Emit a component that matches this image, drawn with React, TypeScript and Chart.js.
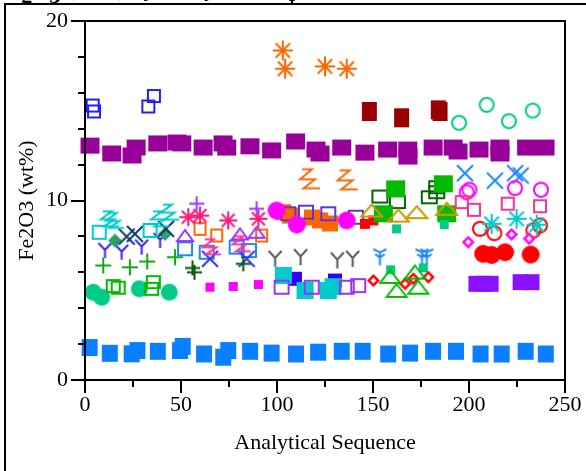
import React, { useEffect, useRef, useState } from "react";
import { Chart, registerables } from "chart.js";

Chart.register(...registerables);

const FONT = "'Liberation Serif', 'Times New Roman', serif";
const X_TITLE = "Analytical Sequence";
const Y_TITLE = "Fe2O3 (wt%)";
const X_MIN = 0, X_MAX = 250, X_STEP = 50, X_MINOR_STEP = 25;
const Y_MIN = 0, Y_MAX = 20, Y_STEP = 10, Y_MINOR_STEP = 2;

// ---- data (x = analytical sequence, y = Fe2O3 wt%) ----
const blueFillX = [2.4, 12.9, 24.3, 27.3, 37.9, 49.5, 50.9, 62.0, 72.0, 74.6, 86.0, 97.2, 109.9, 121.4, 133.7, 144.6, 157.9, 169.3, 181.3, 193.2, 206.0, 217.0, 229.5, 240.0];
const blueFillY = [1.81, 1.49, 1.46, 1.64, 1.6, 1.64, 1.87, 1.45, 1.27, 1.64, 1.6, 1.5, 1.45, 1.55, 1.6, 1.6, 1.45, 1.5, 1.6, 1.6, 1.45, 1.45, 1.6, 1.45];
const purpleFillX = [2.6, 13.9, 24.5, 26.6, 37.9, 47.9, 50.4, 61.5, 71.9, 73.8, 85.9, 97.2, 109.7, 120.3, 122.4, 133.7, 145.8, 157.6, 168.1, 168.2, 181.3, 191.7, 194.3, 205.2, 216.1, 216.1, 230.0, 239.6];
const purpleFillY = [13.06, 12.62, 12.51, 12.95, 13.18, 13.23, 13.18, 12.95, 13.18, 12.95, 13.02, 12.79, 13.29, 12.84, 12.62, 12.95, 12.67, 12.84, 12.84, 12.45, 12.95, 12.95, 12.73, 12.84, 12.95, 12.62, 12.95, 12.95];
const blueOpenX = [4.0, 4.7, 33.0, 35.9];
const blueOpenY = [15.29, 14.96, 15.24, 15.82];
const orangeStarX = [103.0, 104.2, 125.0, 136.3];
const orangeStarY = [18.36, 17.34, 17.47, 17.34];
const darkRedX = [148.1, 164.9, 184.0, 184.9];
const darkRedY = [14.96, 14.61, 15.05, 14.96];
const mintOpenCircX = [194.8, 209.2, 220.8, 233.2];
const mintOpenCircY = [14.33, 15.33, 14.42, 15.01];
const orangeZX = [117.2, 136.8];
const orangeZY = [11.21, 11.15];
const cyanZX = [13.0, 15.6, 39.1, 44.3];
const cyanZY = [8.98, 8.89, 8.98, 9.35];
const cyanOpenX = [7.4, 33.9];
const cyanOpenY = [8.23, 8.33];
const tealDiaX = [15.6, 41.7];
const tealDiaY = [7.77, 8.14];
const navyXX = [21.7, 26.0, 42.2];
const navyXY = [7.99, 8.14, 8.42];
const violetYX = [10.4, 19.1, 29.5, 39.1];
const violetYY = [7.21, 7.12, 7.4, 7.77];
const greenPlusX = [9.5, 23.4, 32.4, 46.9];
const greenPlusY = [6.38, 6.28, 6.6, 6.84];
const mintCircX = [4.3, 8.7, 28.3, 43.9];
const mintCircY = [4.89, 4.61, 5.08, 4.89];
const greenOpenSqX = [14.7, 17.3, 34.7, 35.6];
const greenOpenSqY = [5.23, 5.14, 5.08, 5.45];
const magentaSmallX = [65.1, 77.2, 90.3];
const magentaSmallY = [5.17, 5.21, 5.32];
const pinkStarX = [53.8, 59.9, 74.6, 90.3];
const pinkStarY = [9.07, 9.16, 8.89, 8.98];
const purplePlusX = [58.2, 89.4];
const purplePlusY = [9.82, 9.54];
const orangeOpenX = [59.9, 68.6, 92.0];
const orangeOpenY = [8.42, 8.05, 8.05];
const purpleTriX = [52.1, 80.7, 89.4];
const purpleTriY = [8.05, 8.14, 8.23];
const azureOpenX = [52.1, 63.4, 79.0, 85.4];
const azureOpenY = [7.31, 7.12, 7.4, 7.21];
const blueCrossX = [65.1, 84.2];
const blueCrossY = [6.75, 6.75];
const pinkZX = [66.1, 81.6];
const pinkZY = [7.42, 7.59];
const darkGreenPlusX = [56.0, 57.0, 82.4];
const darkGreenPlusY = [6.24, 6.0, 6.47];
const magentaCircX = [99.8, 110.3, 136.3];
const magentaCircY = [9.44, 8.66, 8.89];
const orangeFillX = [103.3, 106.8, 118.2, 122.4, 127.6];
const orangeFillY = [9.35, 9.16, 9.05, 8.89, 8.72];
const indigoOpenX = [105.9, 115.1, 126.7, 141.1];
const indigoOpenY = [9.26, 9.35, 9.26, 9.07];
const redSmallX = [145.8, 150.2];
const redSmallY = [8.7, 8.89];
const goldTriX = [149.3, 163.2, 172.8, 188.4];
const goldTriY = [9.44, 9.16, 9.35, 9.54];
const darkGreenOpenX = [153.6, 162.7, 179.3, 183.2, 183.2];
const darkGreenOpenY = [10.22, 9.91, 10.18, 10.46, 10.74];
const greenFillX = [161.8, 155.4, 186.6, 188.4];
const greenFillY = [10.65, 9.26, 10.93, 9.26];
const mintSmallX = [162.3, 187.1, 159.2, 176.2];
const mintSmallY = [8.42, 8.66, 6.14, 6.25];
const greyYX = [99.0, 112.3, 131.4, 139.4];
const greyYY = [6.75, 6.84, 6.66, 6.75];
const azureYX = [153.6, 175.5, 178.0];
const azureYY = [6.84, 6.84, 6.84];
const cyanFillX = [103.3, 114.6, 126.7, 129.2];
const cyanFillY = [5.82, 4.99, 4.99, 5.2];
const royalFillX = [109.4, 130.2];
const royalFillY = [5.64, 5.54];
const purpleOpenX = [102.4, 118.1, 136.3, 142.3];
const purpleOpenY = [5.17, 5.17, 5.17, 5.26];
const redDiaX = [150.2, 166.7, 171.0, 178.8];
const redDiaY = [5.54, 5.36, 5.64, 5.73];
const greenTriX = [158.9, 162.3, 171.9, 173.6];
const greenTriY = [5.77, 4.99, 6.01, 5.17];
const azureXX = [197.9, 213.5, 224.0, 226.9];
const azureXY = [11.52, 11.11, 11.52, 11.39];
const magentaOpenCircX = [198.8, 200.2, 224.0, 237.5];
const magentaOpenCircY = [10.46, 10.6, 10.69, 10.6];
const pinkOpenX = [196.2, 202.6, 220.2, 237.0];
const pinkOpenY = [9.91, 9.48, 9.82, 9.68];
const redOpenCircX = [205.7, 213.2, 233.5, 237.0];
const redOpenCircY = [8.42, 8.18, 8.33, 8.61];
const cyanStarX = [211.8, 224.8, 235.3];
const cyanStarY = [8.7, 8.98, 8.65];
const magentaDiaX = [199.6, 222.2, 231.3];
const magentaDiaY = [7.68, 8.11, 7.87];
const redCircX = [207.4, 211.8, 218.8, 232.1];
const redCircY = [7.03, 6.97, 7.12, 6.99];
const violetFillX = [203.6, 207.3, 211.5, 226.6, 232.8];
const violetFillY = [5.36, 5.36, 5.36, 5.45, 5.45];

type Kind = "fsq" | "osq" | "fcirc" | "ocirc" | "star" | "x" | "plus" | "otri" | "Y" | "Y2" | "Z" | "fdia" | "sdia";

interface Series { x: number[]; y: number[]; kind: Kind; color: string; w: number; h: number; lw?: number }

const SERIES: Series[] = [
  { x: blueFillX, y: blueFillY, kind: "fsq", color: "#0a7fff", w: 16, h: 17 },
  { x: purpleFillX, y: purpleFillY, kind: "fsq", color: "#990099", w: 19, h: 16 },
  { x: blueOpenX, y: blueOpenY, kind: "osq", color: "#1e1eff", w: 14, h: 14 },
  { x: orangeStarX, y: orangeStarY, kind: "star", color: "#ff6600", w: 20, h: 20 },
  { x: darkRedX, y: darkRedY, kind: "fsq", color: "#990000", w: 15, h: 19 },
  { x: mintOpenCircX, y: mintOpenCircY, kind: "ocirc", color: "#00cc88", w: 16, h: 16 },
  { x: orangeZX, y: orangeZY, kind: "Z", color: "#ff6600", w: 20, h: 20 },
  { x: mintCircX, y: mintCircY, kind: "fcirc", color: "#00cc88", w: 17, h: 17 },
  { x: greenOpenSqX, y: greenOpenSqY, kind: "osq", color: "#00bb00", w: 15, h: 14 },
  { x: greenPlusX, y: greenPlusY, kind: "plus", color: "#11aa11", w: 16, h: 16 },
  { x: violetYX, y: violetYY, kind: "Y", color: "#3a22ee", w: 13, h: 15 },
  { x: tealDiaX, y: tealDiaY, kind: "fdia", color: "#2e9e6b", w: 14, h: 14 },
  { x: navyXX, y: navyXY, kind: "x", color: "#0d3d66", w: 16, h: 16 },
  { x: cyanOpenX, y: cyanOpenY, kind: "osq", color: "#00cccc", w: 15, h: 15 },
  { x: cyanZX, y: cyanZY, kind: "Z", color: "#00cccc", w: 18, h: 16 },
  { x: magentaSmallX, y: magentaSmallY, kind: "fsq", color: "#ff00ff", w: 9, h: 9 },
  { x: azureOpenX, y: azureOpenY, kind: "osq", color: "#1a88ff", w: 16, h: 15 },
  { x: blueCrossX, y: blueCrossY, kind: "x", color: "#3333ff", w: 16, h: 16 },
  { x: darkGreenPlusX, y: darkGreenPlusY, kind: "plus", color: "#005500", w: 15, h: 15 },
  { x: orangeOpenX, y: orangeOpenY, kind: "osq", color: "#ff6600", w: 13, h: 14 },
  { x: purpleTriX, y: purpleTriY, kind: "otri", color: "#9933ff", w: 18, h: 13 },
  { x: pinkZX, y: pinkZY, kind: "Z", color: "#ff3399", w: 18, h: 16 },
  { x: pinkStarX, y: pinkStarY, kind: "star", color: "#ff1a75", w: 18, h: 18 },
  { x: purplePlusX, y: purplePlusY, kind: "plus", color: "#9933ff", w: 15, h: 15 },
  { x: orangeFillX, y: orangeFillY, kind: "fsq", color: "#ff6600", w: 16, h: 16 },
  { x: indigoOpenX, y: indigoOpenY, kind: "osq", color: "#6633cc", w: 16, h: 15 },
  { x: magentaCircX, y: magentaCircY, kind: "fcirc", color: "#ff00ff", w: 18, h: 18 },
  { x: royalFillX, y: royalFillY, kind: "fsq", color: "#3300ff", w: 14, h: 14 },
  { x: cyanFillX, y: cyanFillY, kind: "fsq", color: "#00cccc", w: 17, h: 17 },
  { x: purpleOpenX, y: purpleOpenY, kind: "osq", color: "#9933ff", w: 16, h: 15 },
  { x: greyYX, y: greyYY, kind: "Y", color: "#555555", w: 13, h: 16 },
  { x: azureYX, y: azureYY, kind: "Y2", color: "#1a88ff", w: 13, h: 16 },
  { x: redSmallX, y: redSmallY, kind: "fsq", color: "#ff0000", w: 10, h: 10 },
  { x: darkGreenOpenX, y: darkGreenOpenY, kind: "osq", color: "#006600", w: 17, h: 14 },
  { x: greenFillX, y: greenFillY, kind: "fsq", color: "#00bb00", w: 19, h: 17 },
  { x: goldTriX, y: goldTriY, kind: "otri", color: "#cc9900", w: 23, h: 14 },
  { x: mintSmallX, y: mintSmallY, kind: "fsq", color: "#00cc88", w: 9, h: 9 },
  { x: redDiaX, y: redDiaY, kind: "sdia", color: "#ff0000", w: 13, h: 13 },
  { x: greenTriX, y: greenTriY, kind: "otri", color: "#00bb00", w: 22, h: 15 },
  { x: azureXX, y: azureXY, kind: "x", color: "#1a88ff", w: 16, h: 16 },
  { x: magentaOpenCircX, y: magentaOpenCircY, kind: "ocirc", color: "#ff00ff", w: 16, h: 16 },
  { x: pinkOpenX, y: pinkOpenY, kind: "osq", color: "#ff3388", w: 14, h: 14 },
  { x: redOpenCircX, y: redOpenCircY, kind: "ocirc", color: "#ff0000", w: 16, h: 16 },
  { x: cyanStarX, y: cyanStarY, kind: "star", color: "#00cccc", w: 20, h: 20 },
  { x: magentaDiaX, y: magentaDiaY, kind: "sdia", color: "#ff00ff", w: 13, h: 13 },
  { x: redCircX, y: redCircY, kind: "fcirc", color: "#ff0000", w: 18, h: 18 },
  { x: violetFillX, y: violetFillY, kind: "fsq", color: "#8811ff", w: 15, h: 16 },
];

function makeMarker(kind: Kind, color: string, w: number, h: number, lw = 2): HTMLCanvasElement {
  const pad = 3;
  const c = document.createElement("canvas");
  c.width = Math.ceil(w) + pad * 2;
  c.height = Math.ceil(h) + pad * 2;
  const g = c.getContext("2d")!;
  const cx = c.width / 2, cy = c.height / 2, hw = w / 2, hh = h / 2;
  g.strokeStyle = color;
  g.fillStyle = color;
  g.lineWidth = lw;
  g.beginPath();
  const seg = (x1: number, y1: number, x2: number, y2: number) => { g.moveTo(x1, y1); g.lineTo(x2, y2); };
  switch (kind) {
    case "fsq":
      g.fillRect(cx - hw, cy - hh, w, h);
      break;
    case "osq":
      g.strokeRect(cx - hw + lw / 2, cy - hh + lw / 2, w - lw, h - lw);
      break;
    case "fcirc":
      g.arc(cx, cy, hw, 0, Math.PI * 2);
      g.fill();
      break;
    case "ocirc":
      g.arc(cx, cy, hw - lw / 2, 0, Math.PI * 2);
      g.stroke();
      break;
    case "star": {
      const d = hw * 0.72;
      seg(cx - hw, cy, cx + hw, cy);
      seg(cx, cy - hh, cx, cy + hh);
      seg(cx - d, cy - d, cx + d, cy + d);
      seg(cx + d, cy - d, cx - d, cy + d);
      g.stroke();
      break;
    }
    case "x":
      seg(cx - hw, cy - hh, cx + hw, cy + hh);
      seg(cx + hw, cy - hh, cx - hw, cy + hh);
      g.stroke();
      break;
    case "plus":
      seg(cx - hw, cy, cx + hw, cy);
      seg(cx, cy - hh, cx, cy + hh);
      g.stroke();
      break;
    case "otri":
      g.moveTo(cx, cy - hh + lw / 2);
      g.lineTo(cx + hw - lw / 2, cy + hh - lw / 2);
      g.lineTo(cx - hw + lw / 2, cy + hh - lw / 2);
      g.closePath();
      g.stroke();
      break;
    case "Y": {
      const jy = cy - hh * 0.1;
      seg(cx - hw, cy - hh, cx, jy);
      seg(cx + hw, cy - hh, cx, jy);
      seg(cx, jy, cx, cy + hh);
      g.stroke();
      break;
    }
    case "Y2": {
      const jy = cy - hh * 0.1;
      seg(cx - hw, cy - hh, cx, jy - 4);
      seg(cx + hw, cy - hh, cx, jy - 4);
      seg(cx - hw * 0.75, cy - hh + 5, cx, jy + 1);
      seg(cx + hw * 0.75, cy - hh + 5, cx, jy + 1);
      seg(cx, jy - 4, cx, cy + hh);
      g.stroke();
      break;
    }
    case "Z": {
      const p = (a: number, b: number): [number, number] => [cx + a * hw, cy + b * hh];
      const pts = [p(-0.8, -0.95), p(0.2, -0.95), p(-1, 0.05), p(0.5, 0.05), p(-0.65, 0.95), p(1, 0.95)];
      g.moveTo(pts[0][0], pts[0][1]);
      for (let i = 1; i < pts.length; i++) g.lineTo(pts[i][0], pts[i][1]);
      g.stroke();
      break;
    }
    case "fdia":
      g.moveTo(cx, cy - hh); g.lineTo(cx + hw, cy); g.lineTo(cx, cy + hh); g.lineTo(cx - hw, cy); g.closePath();
      g.fill();
      break;
    case "sdia":
      g.moveTo(cx, cy - hh); g.lineTo(cx + hw, cy); g.lineTo(cx, cy + hh); g.lineTo(cx - hw, cy); g.closePath();
      g.fill();
      g.beginPath();
      g.fillStyle = "#ffffff";
      g.moveTo(cx, cy - hh * 0.45); g.lineTo(cx + hw * 0.45, cy); g.lineTo(cx, cy + hh * 0.45); g.lineTo(cx - hw * 0.45, cy); g.closePath();
      g.fill();
      break;
  }
  return c;
}

interface Tick { p: number; major: boolean }
interface Frame { l: number; t: number; r: number; b: number; xt: Tick[]; yt: Tick[] }

const ok = (v: any, d: number) => (typeof v === "number" && isFinite(v) ? v : d);

export default function App() {
  const ref = useRef<HTMLCanvasElement>(null);
  const [frame, setFrame] = useState<Frame | null>(null);
  useEffect(() => {
    const datasets = SERIES.map((s, i) => ({
      label: "s" + i,
      order: SERIES.length - i,
      data: s.x.map((v, j) => ({ x: v, y: s.y[j] })),
      pointStyle: makeMarker(s.kind, s.color, s.w, s.h, s.lw ?? 2),
      pointRadius: 6,
      pointHoverRadius: 6,
      showLine: false,
      clip: false,
    }));
    const tickFont = { family: FONT, size: 22 };
    const chart: any = new Chart(ref.current!, {
      type: "scatter",
      data: { datasets },
      options: {
        responsive: false,
        animation: false,
        devicePixelRatio: 1,
        events: [],
        layout: { padding: { left: 0, top: 21, right: 21, bottom: 0 } },
        plugins: { legend: { display: false }, tooltip: { enabled: false } },
        scales: {
          x: {
            type: "linear",
            min: X_MIN,
            max: X_MAX,
            afterFit: (s: any) => { s.height = 91; s.paddingLeft = 0; s.paddingRight = 0; },
            grid: { display: false, drawTicks: false },
            border: { display: false },
            ticks: { stepSize: X_STEP, padding: 12, color: "#000", font: tickFont, maxRotation: 0, autoSkip: false },
            title: { display: true, text: X_TITLE, color: "#000", font: tickFont, padding: { top: 0, bottom: 15 } },
          },
          y: {
            type: "linear",
            min: Y_MIN,
            max: Y_MAX,
            afterFit: (s: any) => { s.width = 85; s.paddingTop = 0; s.paddingBottom = 0; },
            grid: { display: false, drawTicks: false },
            border: { display: false },
            ticks: { stepSize: Y_STEP, padding: 17, color: "#000", font: tickFont },
            title: { display: true, text: Y_TITLE, color: "#000", font: tickFont, padding: { top: 14, bottom: 0 } },
          },
        },
      },
    } as any);
    try {
      const xs = chart.scales.x, ys = chart.scales.y, a = chart.chartArea || {};
      const l = ok(a.left, ok(ys.right, 85));
      const r = ok(a.right, ok(xs.right, 565));
      const t = ok(a.top, ok(ys.top, 21));
      const b = ok(a.bottom, ok(xs.top, 380));
      const xt: Tick[] = [];
      for (let v = X_MIN; v <= X_MAX; v += X_MINOR_STEP) xt.push({ p: xs.getPixelForValue(v), major: v % X_STEP === 0 });
      const yt: Tick[] = [];
      for (let v = Y_MIN; v <= Y_MAX; v += Y_MINOR_STEP) yt.push({ p: ys.getPixelForValue(v), major: v % Y_STEP === 0 });
      setFrame({ l, t, r, b, xt, yt });
    } catch (e) {
      setFrame(null);
    }
    return () => chart.destroy();
  }, []);

  const sub = { position: "relative" as const, top: "0.3em" };
  const bar = (key: string, left: number, top: number, width: number, height: number) => (
    <div key={key} style={{ position: "absolute", left, top, width, height, background: "#000" }} />
  );
  return (
    <div style={{ position: "fixed", left: 0, top: 0, width: 586, height: 471, background: "#fff", overflow: "hidden" }}>
      <div style={{ position: "absolute", left: -2, top: -24, fontFamily: FONT, fontWeight: "bold", fontSize: 22, lineHeight: "26px", whiteSpace: "nowrap", color: "#000" }}>
        Fe<span style={sub}>2</span>O<span style={sub}>3</span> (wt%) by Analytical Sequence
      </div>
      <div style={{ position: "absolute", left: 291, top: 0, width: 2, height: 4, background: "#000" }} />
      <div style={{ position: "absolute", left: 4, top: 3, right: 0, bottom: 0, borderLeft: "2px solid #000", borderTop: "2px solid #000" }} />
      <canvas ref={ref} width={586} height={471} style={{ position: "absolute", left: 0, top: 0, width: 586, height: 471 }} />
      {frame && (
        <>
          {bar("top", frame.l - 1, frame.t - 1, frame.r - frame.l + 2, 2)}
          {bar("bottom", frame.l - 1, frame.b - 1, frame.r - frame.l + 2, 2)}
          {bar("left", frame.l - 1, frame.t - 1, 2, frame.b - frame.t + 2)}
          {bar("right", frame.r - 1, frame.t - 1, 2, frame.b - frame.t + 2)}
          {frame.yt.map((k, i) => bar("yt" + i, frame.l - 1 - (k.major ? 13 : 6), k.p - 1, k.major ? 13 : 6, 2))}
          {frame.xt.map((k, i) => bar("xt" + i, k.p - 1, frame.b + 1, 2, k.major ? 12 : 6))}
        </>
      )}
    </div>
  );
}
